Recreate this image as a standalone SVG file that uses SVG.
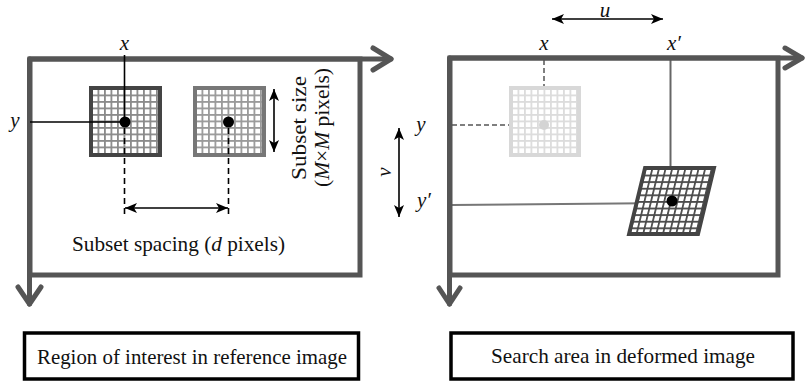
<svg xmlns="http://www.w3.org/2000/svg" width="806" height="385" viewBox="0 0 806 385">
<style>
.frame{fill:none;stroke:#555;stroke-width:5}
.axis{fill:none;stroke:#555;stroke-width:5;stroke-linecap:round;stroke-linejoin:round}
text{font-family:'Liberation Serif','Times New Roman',Times,serif;font-size:22px;fill:#111}
.var{font-style:italic;font-size:21px}
.thin{stroke:#000;stroke-width:1.6;fill:none}
.dash{stroke:#000;stroke-width:1.6;fill:none;stroke-dasharray:6,4}
.dbl{stroke:#000;stroke-width:1.6;fill:none;marker-start:url(#ah);marker-end:url(#ah)}
.box{fill:#fff;stroke:#000;stroke-width:3.5}
</style>
<defs>
<marker id="ah" markerUnits="userSpaceOnUse" markerWidth="14" markerHeight="10" refX="12" refY="5" orient="auto-start-reverse">
<path d="M0,0 L12,5 L0,10 L3,5 z" fill="#000"/>
</marker>
<pattern id="gDark" patternUnits="userSpaceOnUse" x="0" y="0" width="6.5" height="6.5">
<rect width="6.5" height="6.5" fill="#8a8a8a"/><rect x="1.8" y="1.8" width="4.7" height="4.7" fill="#fff"/>
</pattern>
<pattern id="gMid" patternUnits="userSpaceOnUse" x="0" y="0" width="6.5" height="6.5">
<rect width="6.5" height="6.5" fill="#9a9a9a"/><rect x="1.8" y="1.8" width="4.7" height="4.7" fill="#fff"/>
</pattern>
<pattern id="gLight" patternUnits="userSpaceOnUse" x="0" y="0" width="6.5" height="6.5">
<rect width="6.5" height="6.5" fill="#dcdcdc"/><rect x="1.8" y="1.8" width="4.7" height="4.7" fill="#fff"/>
</pattern>
<pattern id="gSkew" patternUnits="userSpaceOnUse" x="0" y="0" width="6.6" height="6.6">
<rect width="6.6" height="6.6" fill="#4a4a4a"/><rect x="1.8" y="1.8" width="4.8" height="4.8" fill="#fff"/>
</pattern>
</defs>

<!-- Left panel: reference image -->
<g id="ref-frame">
<rect class="frame" x="30" y="59" width="330" height="216"/>
<polyline class="axis" points="30,59 391,59"/>
<polyline class="axis" points="373,48 391,59 373,70"/>
<polyline class="axis" points="29.5,59 29.5,304"/>
<polyline class="axis" points="18,287 29.5,304 41,287"/>
</g>

<g id="ref-subset1" transform="translate(91,88)">
<rect x="0" y="0" width="69" height="67" fill="url(#gDark)" stroke="#444" stroke-width="4"/>
</g>
<g id="ref-subset2" transform="translate(195,88)">
<rect x="0" y="0" width="69" height="67" fill="url(#gMid)" stroke="#777" stroke-width="4"/>
</g>

<g id="connectors">
<line class="thin" x1="124.5" y1="55" x2="124.5" y2="122"/>
<line class="thin" x1="30" y1="122" x2="125" y2="122"/>
<line class="dash" x1="124.5" y1="128" x2="124.5" y2="214"/>
<line class="dash" x1="228.5" y1="128" x2="228.5" y2="214"/>
<line class="dbl" x1="125" y1="208" x2="228" y2="208"/>
<line class="dbl" x1="274" y1="89" x2="274" y2="152"/>
<line class="dbl" x1="552" y1="19" x2="663" y2="19"/>
<line class="dbl" x1="399" y1="128" x2="399" y2="217"/>
<line x1="544" y1="60" x2="544" y2="125" stroke="#555" stroke-width="1.5" stroke-dasharray="5,3"/>
<line x1="452" y1="125" x2="544" y2="125" stroke="#555" stroke-width="1.5" stroke-dasharray="5,3"/>
<line x1="670.5" y1="60" x2="670.5" y2="200" stroke="#666" stroke-width="2"/>
<line x1="452" y1="205" x2="672" y2="203" stroke="#777" stroke-width="2"/>
</g>

<g id="ref-dots">
<circle cx="125" cy="122" r="5.5" fill="#000"/>
<circle cx="228.5" cy="122" r="5.5" fill="#000"/>
</g>

<g id="ref-labels">
<text class="var" x="124.5" y="50" text-anchor="middle">x</text>
<text class="var" x="15" y="127" text-anchor="middle">y</text>
<text x="178.5" y="251" text-anchor="middle" textLength="213" lengthAdjust="spacingAndGlyphs">Subset spacing (<tspan font-style="italic">d</tspan> pixels)</text>
<text transform="translate(306,128) rotate(-90)" text-anchor="middle" textLength="104" lengthAdjust="spacingAndGlyphs">Subset size</text>
<text transform="translate(329,127.5) rotate(-90)" text-anchor="middle" textLength="119" lengthAdjust="spacingAndGlyphs">(<tspan font-style="italic">M</tspan>×<tspan font-style="italic">M</tspan> pixels)</text>
</g>

<!-- Right panel: deformed image -->
<g id="def-frame">
<rect class="frame" x="450" y="58" width="328" height="217"/>
<polyline class="axis" points="450,58 802,58"/>
<polyline class="axis" points="785,48 802,58 785,68"/>
<polyline class="axis" points="449.5,58 449.5,304"/>
<polyline class="axis" points="439,288 449.5,304 460,288"/>
</g>

<g id="def-ghost-subset" transform="translate(511,88)">
<rect x="0" y="0" width="68" height="67" fill="url(#gLight)" stroke="#d8d8d8" stroke-width="4"/>
<circle cx="33" cy="37" r="5" fill="#d4d4d4"/>
</g>

<g id="def-subset" transform="translate(645,168) skewX(-13.6)">
<rect x="0" y="0" width="69" height="66" fill="url(#gSkew)" stroke="#444" stroke-width="4"/>
</g>
<g id="def-dot"><circle cx="672" cy="201" r="5.5" fill="#000"/></g>

<g id="def-labels">
<text class="var" x="605" y="17" text-anchor="middle">u</text>
<text class="var" x="544" y="50" text-anchor="middle">x</text>
<text class="var" x="674" y="50" text-anchor="middle">x′</text>
<text class="var" x="421" y="131" text-anchor="middle">y</text>
<text class="var" x="424" y="207" text-anchor="middle">y′</text>
<text class="var" transform="translate(391,172) rotate(-90)" text-anchor="middle">v</text>
</g>

<g id="caption-ref">
<rect class="box" x="24.5" y="333" width="334" height="46"/>
<text x="192" y="364" text-anchor="middle" textLength="310" lengthAdjust="spacingAndGlyphs">Region of interest in reference image</text>
</g>
<g id="caption-def">
<rect class="box" x="451" y="333" width="342" height="46"/>
<text x="623" y="363" text-anchor="middle" textLength="264" lengthAdjust="spacingAndGlyphs">Search area in deformed image</text>
</g>
</svg>
